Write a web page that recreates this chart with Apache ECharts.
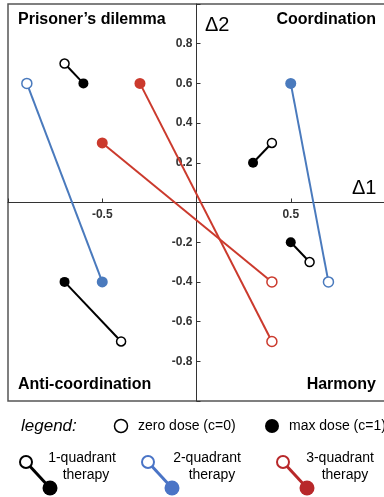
<!DOCTYPE html>
<html>
<head>
<meta charset="utf-8">
<script src="https://cdn.jsdelivr.net/npm/echarts@6/dist/echarts.min.js"></script>
<style>
  html, body { margin: 0; padding: 0; background: #fff; }
  #main { width: 384px; height: 497px; }
</style>
</head>
<body>
<div id="main"></div>
<script>
  // each pair: [zero dose (c=0), max dose (c=1)]
  var oneQuadrant = [
    [[-0.7, 0.7], [-0.6, 0.6]],
    [[0.4, 0.3], [0.3, 0.2]],
    [[0.6, -0.3], [0.5, -0.2]],
    [[-0.4, -0.7], [-0.7, -0.4]]
  ];
  var twoQuadrant = [
    [[-0.9, 0.6], [-0.5, -0.4]],
    [[0.7, -0.4], [0.5, 0.6]]
  ];
  var threeQuadrant = [
    [[0.4, -0.7], [-0.3, 0.6]],
    [[0.4, -0.4], [-0.5, 0.3]]
  ];
  var xTickLabels = ['-0.5', '0.5'];
  var yTickLabels = ['0.8', '0.6', '0.4', '0.2', '-0.2', '-0.4', '-0.6', '-0.8'];

  var BLACK = '#000';
  var BLUE = '#4a7abd';
  var RED = '#cb3a2d';
  var FONT = "'Liberation Sans', Arial, Helvetica, sans-serif";

  // grid box (the frame) and where the zero lines sit inside it
  var GL = 8, GT = 4, GW = 377, GH = 397;

  function makeSeries(pairs, color, size) {
    return pairs.map(function (p) {
      return {
        type: 'line',
        symbol: 'circle',
        silent: true,
        animation: false,
        lineStyle: { color: color, width: 2 },
        data: [
          { value: p[0], symbolSize: size, itemStyle: { color: '#fff', borderColor: color, borderWidth: 1.5 } },
          { value: p[1], symbolSize: size + 1, itemStyle: { color: color, borderWidth: 0 } }
        ]
      };
    });
  }

  function txt(text, x, y, size, opts) {
    opts = opts || {};
    return {
      type: 'text',
      silent: true,
      style: {
        text: text, x: x, y: y,
        font: (opts.style || '') + ' ' + (opts.weight || 'normal') + ' ' + size + 'px ' + FONT,
        fill: opts.fill || '#000',
        align: opts.align || 'left', textAlign: opts.align || 'left',
        verticalAlign: 'middle', textVerticalAlign: 'middle'
      }
    };
  }

  function lollipop(x, color) {
    return [
      { type: 'line', silent: true, shape: { x1: x, y1: 462, x2: x + 24, y2: 488 }, style: { stroke: color, lineWidth: 3 } },
      { type: 'circle', silent: true, shape: { cx: x, cy: 462, r: 6 }, style: { fill: '#fff', stroke: color, lineWidth: 2 } },
      { type: 'circle', silent: true, shape: { cx: x + 24, cy: 488, r: 7.5 }, style: { fill: color } }
    ];
  }

  var chart = echarts.init(document.getElementById('main'));

  var graphics = [
    txt('Prisoner\u2019s dilemma', 18, 20, 16, { weight: 'bold' }),
    txt('Coordination', 376, 20, 16, { weight: 'bold', align: 'right' }),
    txt('Anti-coordination', 18, 385, 16, { weight: 'bold' }),
    txt('Harmony', 376, 385, 16, { weight: 'bold', align: 'right' }),
    txt('\u03942', 205, 25, 20),
    txt('\u03941', 352, 188, 20),
    txt('legend:', 21, 426, 17, { style: 'italic' }),
    { type: 'circle', silent: true, shape: { cx: 121, cy: 426, r: 6.5 }, style: { fill: '#fff', stroke: '#000', lineWidth: 1.5 } },
    txt('zero dose (c=0)', 138, 426, 14),
    { type: 'circle', silent: true, shape: { cx: 272, cy: 426, r: 7 }, style: { fill: '#000' } },
    txt('max dose (c=1)', 289, 426, 14),
    txt('1-quadrant', 82, 458, 14, { align: 'center' }),
    txt('therapy', 86, 475, 14, { align: 'center' }),
    txt('2-quadrant', 207, 458, 14, { align: 'center' }),
    txt('therapy', 212, 475, 14, { align: 'center' }),
    txt('3-quadrant', 340, 458, 14, { align: 'center' }),
    txt('therapy', 345, 475, 14, { align: 'center' })
  ].concat(lollipop(26, BLACK), lollipop(148, '#4a74c6'), lollipop(283, '#b8282a'));

  var option = {
    animation: false,
    grid: {
      left: GL, top: GT, width: GW, height: GH,
      containLabel: false, outerBoundsMode: 'none',
      show: true, borderColor: '#555', borderWidth: 1.5
    },
    xAxis: {
      type: 'value', min: -1, max: 1, interval: 0.5,
      position: 'bottom', offset: -GH / 2,
      splitLine: { show: false },
      axisLine: { onZero: false, lineStyle: { color: '#333', width: 1 } },
      axisTick: { inside: true, length: 4, lineStyle: { color: '#333' } },
      axisLabel: {
        margin: 6, color: '#333', fontWeight: 'bold', fontSize: 12, fontFamily: FONT,
        formatter: function (v) {
          var s = v.toFixed(1);
          return xTickLabels.indexOf(s) >= 0 ? s : '';
        }
      }
    },
    yAxis: {
      type: 'value', min: -1, max: 1, interval: 0.2,
      position: 'left', offset: -GW / 2,
      splitLine: { show: false },
      axisLine: { onZero: false, lineStyle: { color: '#333', width: 1 } },
      axisTick: { inside: true, length: 4, lineStyle: { color: '#333' } },
      axisLabel: {
        margin: 4, color: '#333', fontWeight: 'bold', fontSize: 12, fontFamily: FONT,
        formatter: function (v) {
          var s = v.toFixed(1);
          return yTickLabels.indexOf(s) >= 0 ? s : '';
        }
      }
    },
    graphic: graphics,
    series: []
      .concat(makeSeries(threeQuadrant, RED, 10))
      .concat(makeSeries(twoQuadrant, BLUE, 10))
      .concat(makeSeries(oneQuadrant, BLACK, 9))
  };

  chart.setOption(option);
</script>
</body>
</html>
